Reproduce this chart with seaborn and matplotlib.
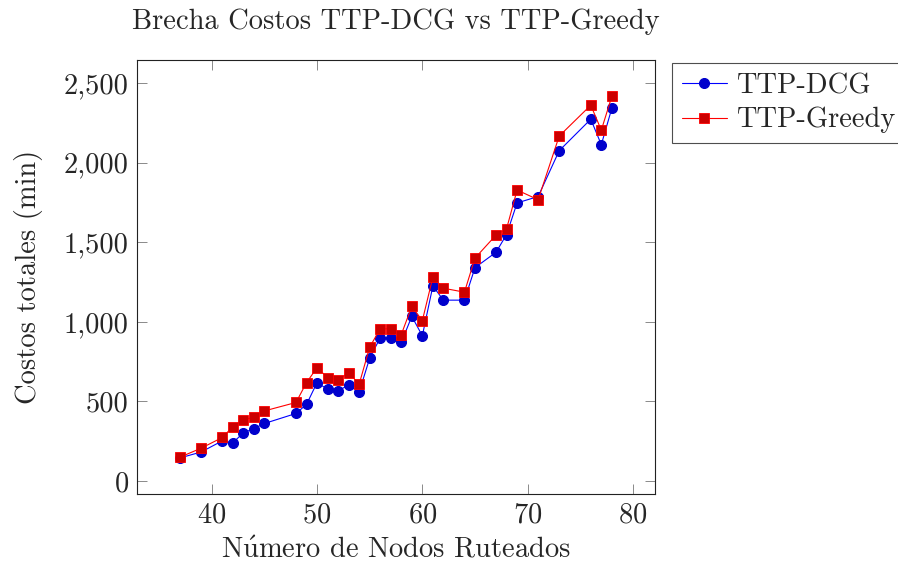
import matplotlib
matplotlib.use("Agg")
import matplotlib.pyplot as plt
import seaborn as sns
import pandas as pd
from matplotlib.ticker import FuncFormatter, MultipleLocator

nodos = [37, 39, 41, 42, 43, 44, 45, 48, 49, 50, 51, 52, 53, 54, 55, 56, 57, 58,
         59, 60, 61, 62, 64, 65, 67, 68, 69, 71, 73, 76, 77, 78]
dcg = [145, 182, 252, 240, 302, 329, 361, 424, 481, 618, 576, 566, 603, 558, 772, 899,
       899, 870, 1034, 912, 1225, 1136, 1136, 1340, 1437, 1548, 1747, 1787, 2075, 2273,
       2113, 2342]
greedy = [150, 206, 273, 341, 384, 401, 440, 493, 618, 712, 649, 633, 680, 608, 841, 956,
          956, 920, 1097, 1007, 1281, 1211, 1186, 1400, 1545, 1584, 1828, 1767, 2167,
          2361, 2204, 2417]

titulo = "Brecha Costos TTP-DCG vs TTP-Greedy"
xlabel = r"N$\acute{\mathrm{u}}$mero de Nodos Ruteados"
ylabel = "Costos totales (min)"

sns.set_theme(style="ticks")
plt.rcParams["font.family"] = ["cmr10", "DejaVu Serif"]
plt.rcParams["mathtext.fontset"] = "cm"
plt.rcParams["axes.unicode_minus"] = False
plt.rcParams["axes.formatter.use_mathtext"] = True

FS = 20.5

df = pd.DataFrame({"nodos": nodos, "TTP-DCG": dcg, "TTP-Greedy": greedy})

fig = plt.figure(figsize=(8.98, 5.65), dpi=100)
ax = fig.add_axes([0.1526, 0.1257, 0.7294 - 0.1526, 0.8938 - 0.1257])

sns.lineplot(data=df, x="nodos", y="TTP-DCG", ax=ax, color="blue", lw=0.8,
             marker="o", markersize=7.2, markerfacecolor="#0000cc",
             markeredgecolor="#0000cc", label="TTP-DCG")
sns.lineplot(data=df, x="nodos", y="TTP-Greedy", ax=ax, color="red", lw=0.8,
             marker="s", markersize=7.8, markerfacecolor="#cc0000",
             markeredgecolor="#ff0000", markeredgewidth=0.6, label="TTP-Greedy")

ax.set_xlim(32.9, 82.1)
ax.set_ylim(-82, 2645)
ax.xaxis.set_major_locator(MultipleLocator(10))
ax.yaxis.set_major_locator(MultipleLocator(500))
ax.yaxis.set_major_formatter(FuncFormatter(lambda v, p: f"{int(v):,}"))
ax.tick_params(direction="in", top=True, right=True, length=7, width=0.6,
               labelsize=FS, pad=6, color="#777777")
for s in ax.spines.values():
    s.set_linewidth(0.8)
    s.set_color("#222222")

ax.set_xlabel(xlabel, fontsize=FS, labelpad=6)
ax.set_ylabel(ylabel, fontsize=FS, labelpad=15)
ax.set_title(titulo, fontsize=FS, pad=22)

ax.legend_.remove()
h, l = ax.get_legend_handles_labels()
leg = fig.legend(h, l, loc="upper left", bbox_to_anchor=(0.748, 0.889),
                 fontsize=FS, frameon=True, fancybox=False, edgecolor="#222222",
                 borderpad=0.35, labelspacing=0.28, handlelength=1.6,
                 handletextpad=0.3, borderaxespad=0)
leg.get_frame().set_linewidth(0.8)

fig.savefig("out.png", dpi=100)
